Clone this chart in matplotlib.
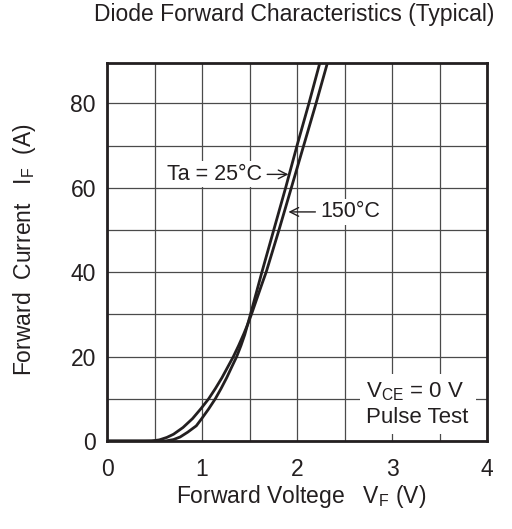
import matplotlib
matplotlib.use("Agg")
import matplotlib.pyplot as plt
from matplotlib.ticker import MultipleLocator

plt.rcParams['font.family'] = ['Liberation Sans', 'DejaVu Sans']
plt.rcParams['mathtext.fontset'] = 'custom'
plt.rcParams['mathtext.rm'] = 'Liberation Sans'
plt.rcParams['mathtext.it'] = 'Liberation Sans'

# Data
v_25 = [0.0, 0.55, 0.62, 0.70, 0.77, 0.85, 0.94, 1.00, 1.07, 1.14, 1.20, 1.26, 1.31, 1.365,
        1.41, 1.45, 1.51, 1.57, 1.63, 1.755, 1.88, 2.00, 2.125, 2.24, 2.27]
i_25 = [0.0, 0.0, 0.02, 0.34, 0.95, 2.1, 3.6, 5.4, 7.6, 10.0, 12.4, 15.0, 17.4, 20.0,
        22.6, 25.2, 30.0, 35.0, 40.0, 50.0, 60.0, 70.0, 80.0, 89.6, 92.0]
v_150 = [0.0, 0.40, 0.47, 0.55, 0.63, 0.70, 0.80, 0.90, 0.99, 1.07, 1.14, 1.21, 1.27, 1.33,
         1.385, 1.44, 1.48, 1.52, 1.56, 1.60, 1.64, 1.675, 1.81, 1.94, 2.07, 2.20, 2.32, 2.35]
i_150 = [0.0, 0.0, 0.02, 0.26, 0.85, 1.6, 3.2, 5.3, 7.7, 10.0, 12.4, 15.0, 17.5, 20.0,
         22.6, 25.4, 27.6, 30.0, 32.6, 35.2, 37.8, 40.0, 50.0, 60.0, 70.0, 80.0, 89.6, 92.0]

x_ticks = [0, 1, 2, 3, 4]
y_ticks = [0, 20, 40, 60, 80]

INK = '#231f20'

fig = plt.figure(figsize=(5.12, 5.29), dpi=100)
ax = fig.add_axes([107/512, 1-441/529, 380/512, 378/529])

ax.set_xlim(0, 4)
ax.set_ylim(0, 89.6)
ax.set_xticks(x_ticks)
ax.set_yticks(y_ticks)
ax.xaxis.set_minor_locator(MultipleLocator(0.5))
ax.yaxis.set_minor_locator(MultipleLocator(10))
ax.grid(True, which='both', color='#4a4a4a', linewidth=0.9, zorder=0)
ax.tick_params(which='both', length=0, labelsize=16.5, colors=INK)
ax.tick_params(axis='x', pad=12)
ax.tick_params(axis='y', pad=8)
for s in ax.spines.values():
    s.set_linewidth(2.0)
    s.set_color(INK)
    s.set_zorder(5)

ax.plot(v_25, i_25, color=INK, linewidth=2.0, zorder=3, solid_joinstyle='round')
ax.plot(v_150, i_150, color=INK, linewidth=2.0, zorder=3, solid_joinstyle='round')

ax.annotate('Ta = 25°C', xy=(1.91, 63.2), xytext=(1.63, 63.2),
            fontsize=15.5, color=INK, ha='right', va='center',
            bbox=dict(boxstyle='square,pad=0.12', fc='white', ec='none'),
            arrowprops=dict(arrowstyle='->', color=INK, lw=1.0,
                            shrinkA=2, shrinkB=0), zorder=4)
ax.annotate('150°C', xy=(1.91, 54.3), xytext=(2.25, 54.3),
            fontsize=15.5, color=INK, ha='left', va='center',
            bbox=dict(boxstyle='square,pad=0.12', fc='white', ec='none'),
            arrowprops=dict(arrowstyle='->', color=INK, lw=1.0,
                            shrinkA=2, shrinkB=0), zorder=4)

ax.text(3.27, 8.7, '$\\mathregular{V_{CE}}$ = 0 V\nPulse Test', fontsize=16,
        color=INK, ha='center', va='center', multialignment='left', linespacing=1.2,
        bbox=dict(boxstyle='square,pad=0.3', fc='white', ec='none'), zorder=4)

fig.text(294/512, 1-15/529, 'Diode Forward Characteristics (Typical)',
         fontsize=16.5, color=INK, ha='center', va='center')
fig.text(301/512, 1-497/529, 'Forward Voltege   $\\mathregular{V_F}$ (V)',
         fontsize=16.5, color=INK, ha='center', va='center')
fig.text(25/512, 1-250/529, 'Forward  Current   $\\mathregular{I_F}$  (A)',
         fontsize=16.5, color=INK, ha='center', va='center', rotation=90)

fig.savefig('out.png', dpi=100)
